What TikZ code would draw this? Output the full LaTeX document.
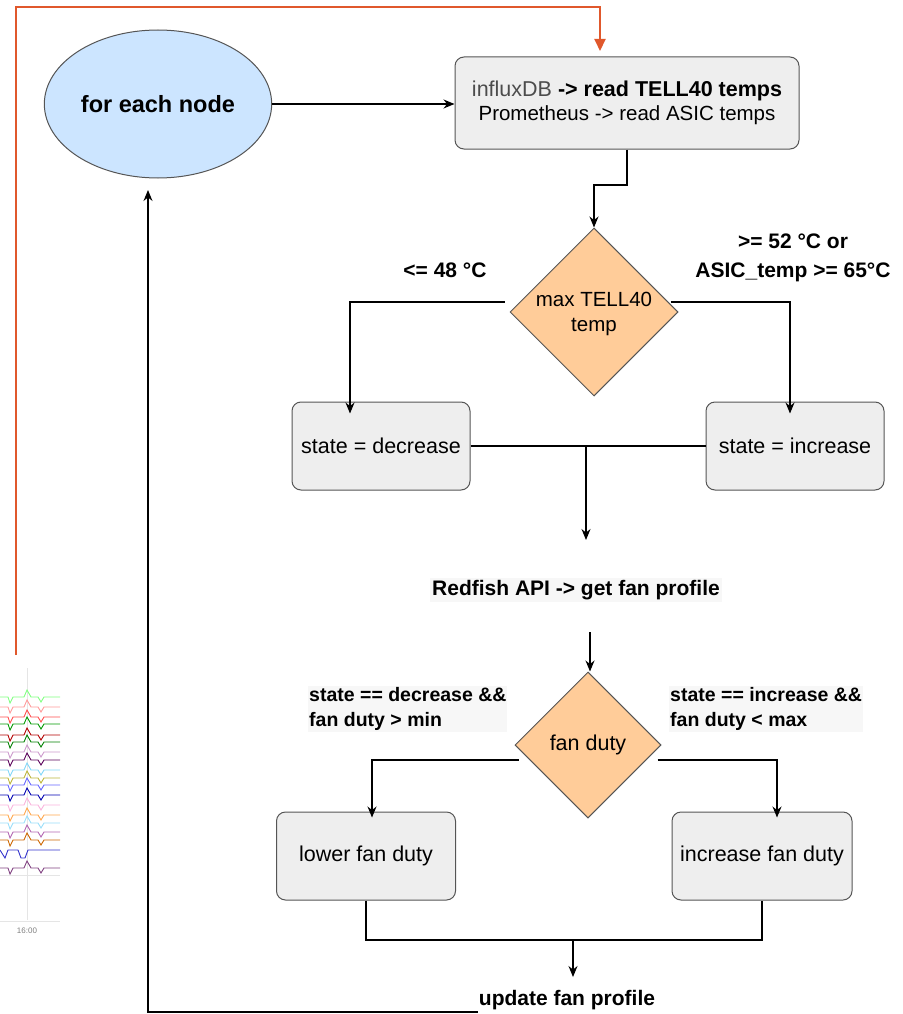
\documentclass[tikz,border=0pt]{standalone}
\usepackage{fontspec}
\setmainfont{Liberation Sans}
\usetikzlibrary{shapes.geometric,arrows.meta}
\definecolor{boxfill}{HTML}{EEEEEE}
\definecolor{boxline}{HTML}{555555}
\definecolor{ellfill}{HTML}{CCE5FF}
\definecolor{diafill}{HTML}{FFCC99}
\definecolor{loopred}{HTML}{E0582C}
\definecolor{lblbg}{HTML}{F7F7F7}
\tikzset{
  procbox/.style={draw=boxline, fill=boxfill, rounded corners=9pt, line width=1pt, minimum width=#1, minimum height=88pt, inner sep=2pt, font=\fontsize{21.5}{24}\selectfont},
  procbox/.default=178pt,
  decision/.style={diamond, draw=boxline, fill=diafill, line width=1pt, inner sep=0pt, minimum width=#1, minimum height=#1},
  flow/.style={line width=1.2pt, -{Stealth[length=11pt,width=9pt]}},
  plain/.style={line width=1.2pt},
  lbl/.style={font=\bfseries\fontsize{21}{26}\selectfont, align=left, inner sep=1pt},
}
\begin{document}
\begin{tikzpicture}[x=1pt,y=-1pt]
\useasboundingbox (0,0) rectangle (902,1014);

% --- fragment of a chart at the left edge ---
\begin{scope}
\clip (0,660) rectangle (60,940);
\draw[gray!20, line width=0.8pt] (27,668) -- (27,920);
\draw[gray!20, line width=0.8pt] (0,875) -- (60,875);
\draw[gray!20, line width=0.8pt] (0,921) -- (60,921);
\foreach \y/\c in {697/green!50, 707/red!40, 717/red!70, 724/green!60!black, 735/red!70!black, 742/green!50!black,
  752/violet!40, 760/violet!70!black, 770/cyan!50, 778/yellow!70!black, 785/blue!60, 795/blue!70!black,
  805/magenta!30, 815/orange!70, 823/cyan!40, 832/violet!60, 840/orange!80!black, 868/violet!50!gray}
  \draw[\c, line width=0.9pt] (0,\y) -- (8,\y) -- (10,\y+6) -- (13,\y) -- (24,\y) -- (27,\y-7) -- (31,\y) -- (38,\y) -- (41,\y+5) -- (44,\y) -- (60,\y);
\draw[blue!60!gray, line width=0.9pt] (0,850) -- (5,858) -- (8,850) -- (18,850) -- (21,858) -- (25,858) -- (28,850) -- (60,850);
\end{scope}
\node[text=gray, font=\fontsize{8}{9}\selectfont] (tick) at (27,931) {16:00};

% --- nodes ---
\node[ellipse, draw=boxline, fill=ellfill, line width=1pt, minimum width=224pt, minimum height=148pt, font=\bfseries\fontsize{23.5}{26}\selectfont] (each) at (158,104) {for each node};

\node[procbox=344pt, minimum height=92pt, align=center] (read) at (627,103)
  {{\fontsize{21.5}{27}\selectfont\color{black!70}influxDB\color{black}\bfseries{} -> read TELL40 temps}\\
   {\fontsize{20.5}{24}\selectfont Prometheus -> read ASIC temps}};

\node[decision=168pt] (maxt) at (594,312) {};
\node[font=\fontsize{20.5}{25}\selectfont, align=center] (maxtlbl) at (594,314) {max TELL40\\temp};

\node[procbox] (dec) at (381,446) {state = decrease};
\node[procbox] (inc) at (795,446) {state = increase};

\node[lbl, fill=lblbg, inner sep=2pt] (redfish) at (576,590) {Redfish API -> get fan profile};

\node[decision=146pt] (duty) at (588,745) {};
\node[font=\fontsize{21.5}{24}\selectfont] (dutylbl) at (588,745) {fan duty};

\node[procbox=179pt] (lower) at (366,856) {lower fan duty};
\node[procbox=180pt] (raise) at (762,856) {increase fan duty};

\node[lbl] (upd) at (567,1000) {update fan profile};

% --- edge labels ---
\node[lbl] (lcold) at (445,270) {<= 48 °C};
\node[lbl, align=center, font=\bfseries\fontsize{21}{29}\selectfont] (lhot) at (793,258) {>= 52 °C or\\ASIC\_temp >= 65°C};
\node[lbl, fill=lblbg, anchor=west, font=\bfseries\fontsize{19.5}{25}\selectfont] (ldec) at (308,709) {state == decrease \&\&\\fan duty > min};
\node[lbl, fill=lblbg, anchor=west, font=\bfseries\fontsize{19.5}{25}\selectfont] (linc) at (669,709) {state == increase \&\&\\fan duty < max};

% --- connectors ---
\coordinate (loopstart) at (16,655);
\draw[loopred, line width=2pt, -{Triangle[length=12pt,width=11pt]}] (loopstart) |- (600,7) -- (600,51);

\draw[flow] (each.east) -- (read.west |- each.east);

\draw[flow] (read.south -| 627,0) -- (627,185) -| (maxt.north);

\draw[flow] (maxt.west |- 0,302) ++(-5,0) -| ([yshift=-12pt]dec.north -| 350,0);
\draw[flow] (maxt.east |- 0,302) ++(-8,0) -| ([yshift=-12pt]inc.north -| 790,0);

\draw[plain] (dec.east) -- (inc.west);
\coordinate (mergeA) at (586,446);
\draw[flow] (mergeA) -- (586,540);

\coordinate (toduty) at (590,632);
\draw[flow] (toduty) -- (duty.north -| 590,0);

\draw[flow] (duty.west |- 0,760) ++(4,0) -| ([yshift=-6pt]lower.north -| 372,0);
\draw[flow] (duty.east |- 0,760) ++(-4,0) -| ([yshift=-6pt]raise.north -| 777,0);

\draw[plain] (lower.south) -- (366,940) -| (raise.south);
\coordinate (mergeB) at (573,940);
\draw[flow] (mergeB) -- (573,977);

\draw[flow] (upd.west |- 0,1012) -- (148,1012) -- (148,190);
\end{tikzpicture}
\end{document}
